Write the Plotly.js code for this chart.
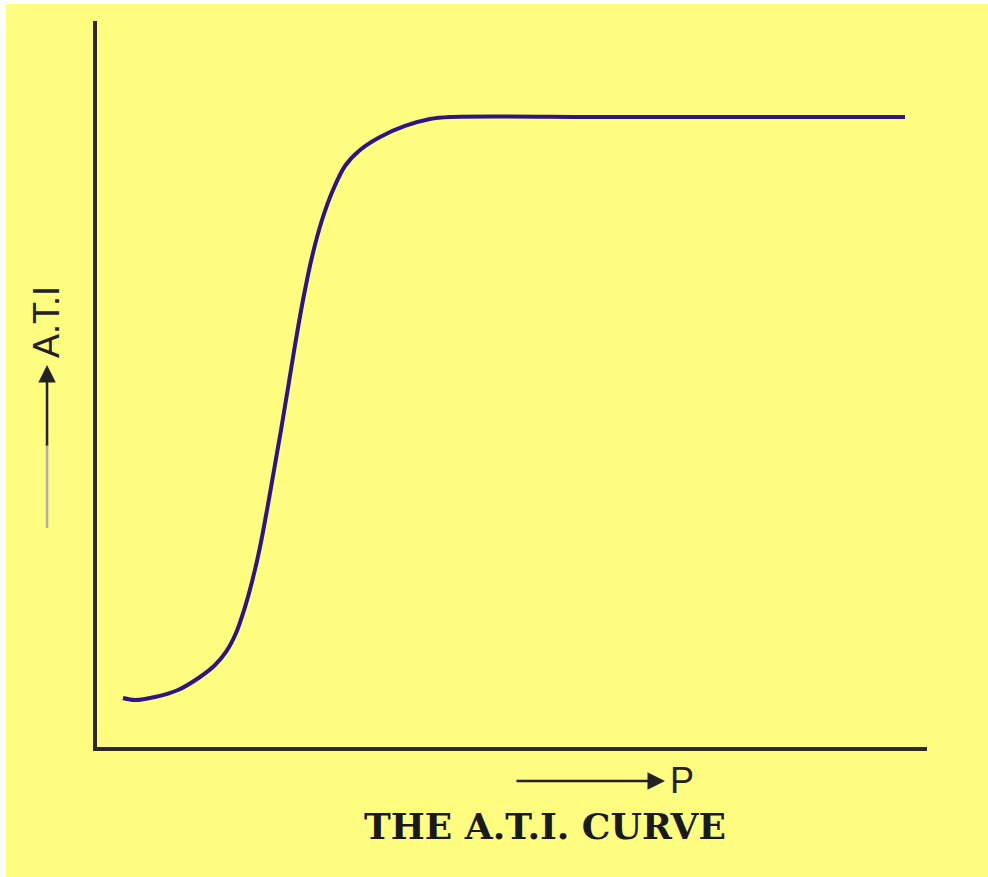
<!DOCTYPE html>
<html>
<head>
<meta charset="utf-8">
<script src="https://cdn.plot.ly/plotly-3.0.1.min.js"></script>
<style>
  html, body { margin: 0; padding: 0; background: #ffffff; }
  #chart { position: absolute; left: 6px; top: 4px; width: 982px; height: 873px; }
</style>
</head>
<body>
<div id="chart"></div>
<script>
// Curve values (P on x, A.T.I on y, arbitrary 0-100 units)
const pValues = [3.13, 4.58, 6.99, 9.76, 12.41, 14.22, 15.54, 16.75, 17.83, 18.67, 19.64, 20.48, 21.33, 22.17, 23.01, 23.86, 24.82, 25.90, 27.11, 28.43, 29.88, 31.69, 34.10, 37.11, 40.12, 42.53, 60.60, 78.67, 97.35];
const atiValues = [6.75, 6.47, 6.89, 7.85, 9.64, 11.29, 13.09, 15.70, 19.28, 22.73, 27.55, 32.64, 38.15, 43.66, 49.45, 55.37, 61.57, 67.49, 72.59, 76.72, 80.03, 82.23, 84.02, 85.54, 86.50, 86.78, 86.78, 86.78, 86.78];
const xLabel = "P";
const yLabel = "A.T.I";
const chartTitle = "THE A.T.I. CURVE";

const yellow = "#FFFD7F";

const trace = {
  x: pValues,
  y: atiValues,
  type: "scatter",
  mode: "lines",
  line: { color: "#2D1683", width: 4, shape: "spline", smoothing: 0.9 },
  hoverinfo: "skip",
  cliponaxis: false
};

const layout = {
  width: 982,
  height: 873,
  margin: { l: 91, r: 61, t: 17, b: 130 },
  paper_bgcolor: yellow,
  plot_bgcolor: yellow,
  showlegend: false,
  xaxis: {
    range: [0, 100],
    showline: true, linecolor: "#2a2a2a", linewidth: 4,
    showgrid: false, zeroline: false, showticklabels: false, ticks: ""
  },
  yaxis: {
    range: [0, 100],
    showline: true, linecolor: "#2a2a2a", linewidth: 4,
    showgrid: false, zeroline: false, showticklabels: false, ticks: ""
  },
  shapes: [
    { type: "line", xref: "paper", yref: "paper", x0: -0.0602, x1: -0.0602, y0: 0.3017, y1: 0.418,
      line: { color: "#b0b0a8", width: 2.5 } }
  ],
  annotations: [
    { xref: "paper", yref: "paper", x: 0.5398, y: -0.1088, text: "<b>" + chartTitle + "</b>",
      showarrow: false, xanchor: "center", yanchor: "middle",
      font: { family: "DejaVu Serif", size: 36, color: "#1a1a1a" } },
    { xref: "paper", yref: "paper", x: 0.7048, y: -0.0468, text: xLabel,
      showarrow: false, xanchor: "center", yanchor: "middle",
      font: { family: "Liberation Sans Narrow, Liberation Sans", size: 36, color: "#222" } },
    { xref: "paper", yref: "paper", x: 0.6843, y: -0.0468, text: "",
      showarrow: true, ax: -150, ay: 0, arrowhead: 2, arrowsize: 1.4, arrowwidth: 2.5, arrowcolor: "#222" },
    { xref: "paper", yref: "paper", x: -0.0602, y: 0.5854, text: yLabel, textangle: -90,
      showarrow: false, xanchor: "center", yanchor: "middle",
      font: { family: "Liberation Sans Narrow, Liberation Sans", size: 36, color: "#222" } },
    { xref: "paper", yref: "paper", x: -0.0602, y: 0.5262, text: "",
      showarrow: true, ax: 0, ay: 82, arrowhead: 2, arrowsize: 1.4, arrowwidth: 2.5, arrowcolor: "#222" }
  ]
};

Plotly.newPlot("chart", [trace], layout, { displayModeBar: false, staticPlot: true });
</script>
</body>
</html>
